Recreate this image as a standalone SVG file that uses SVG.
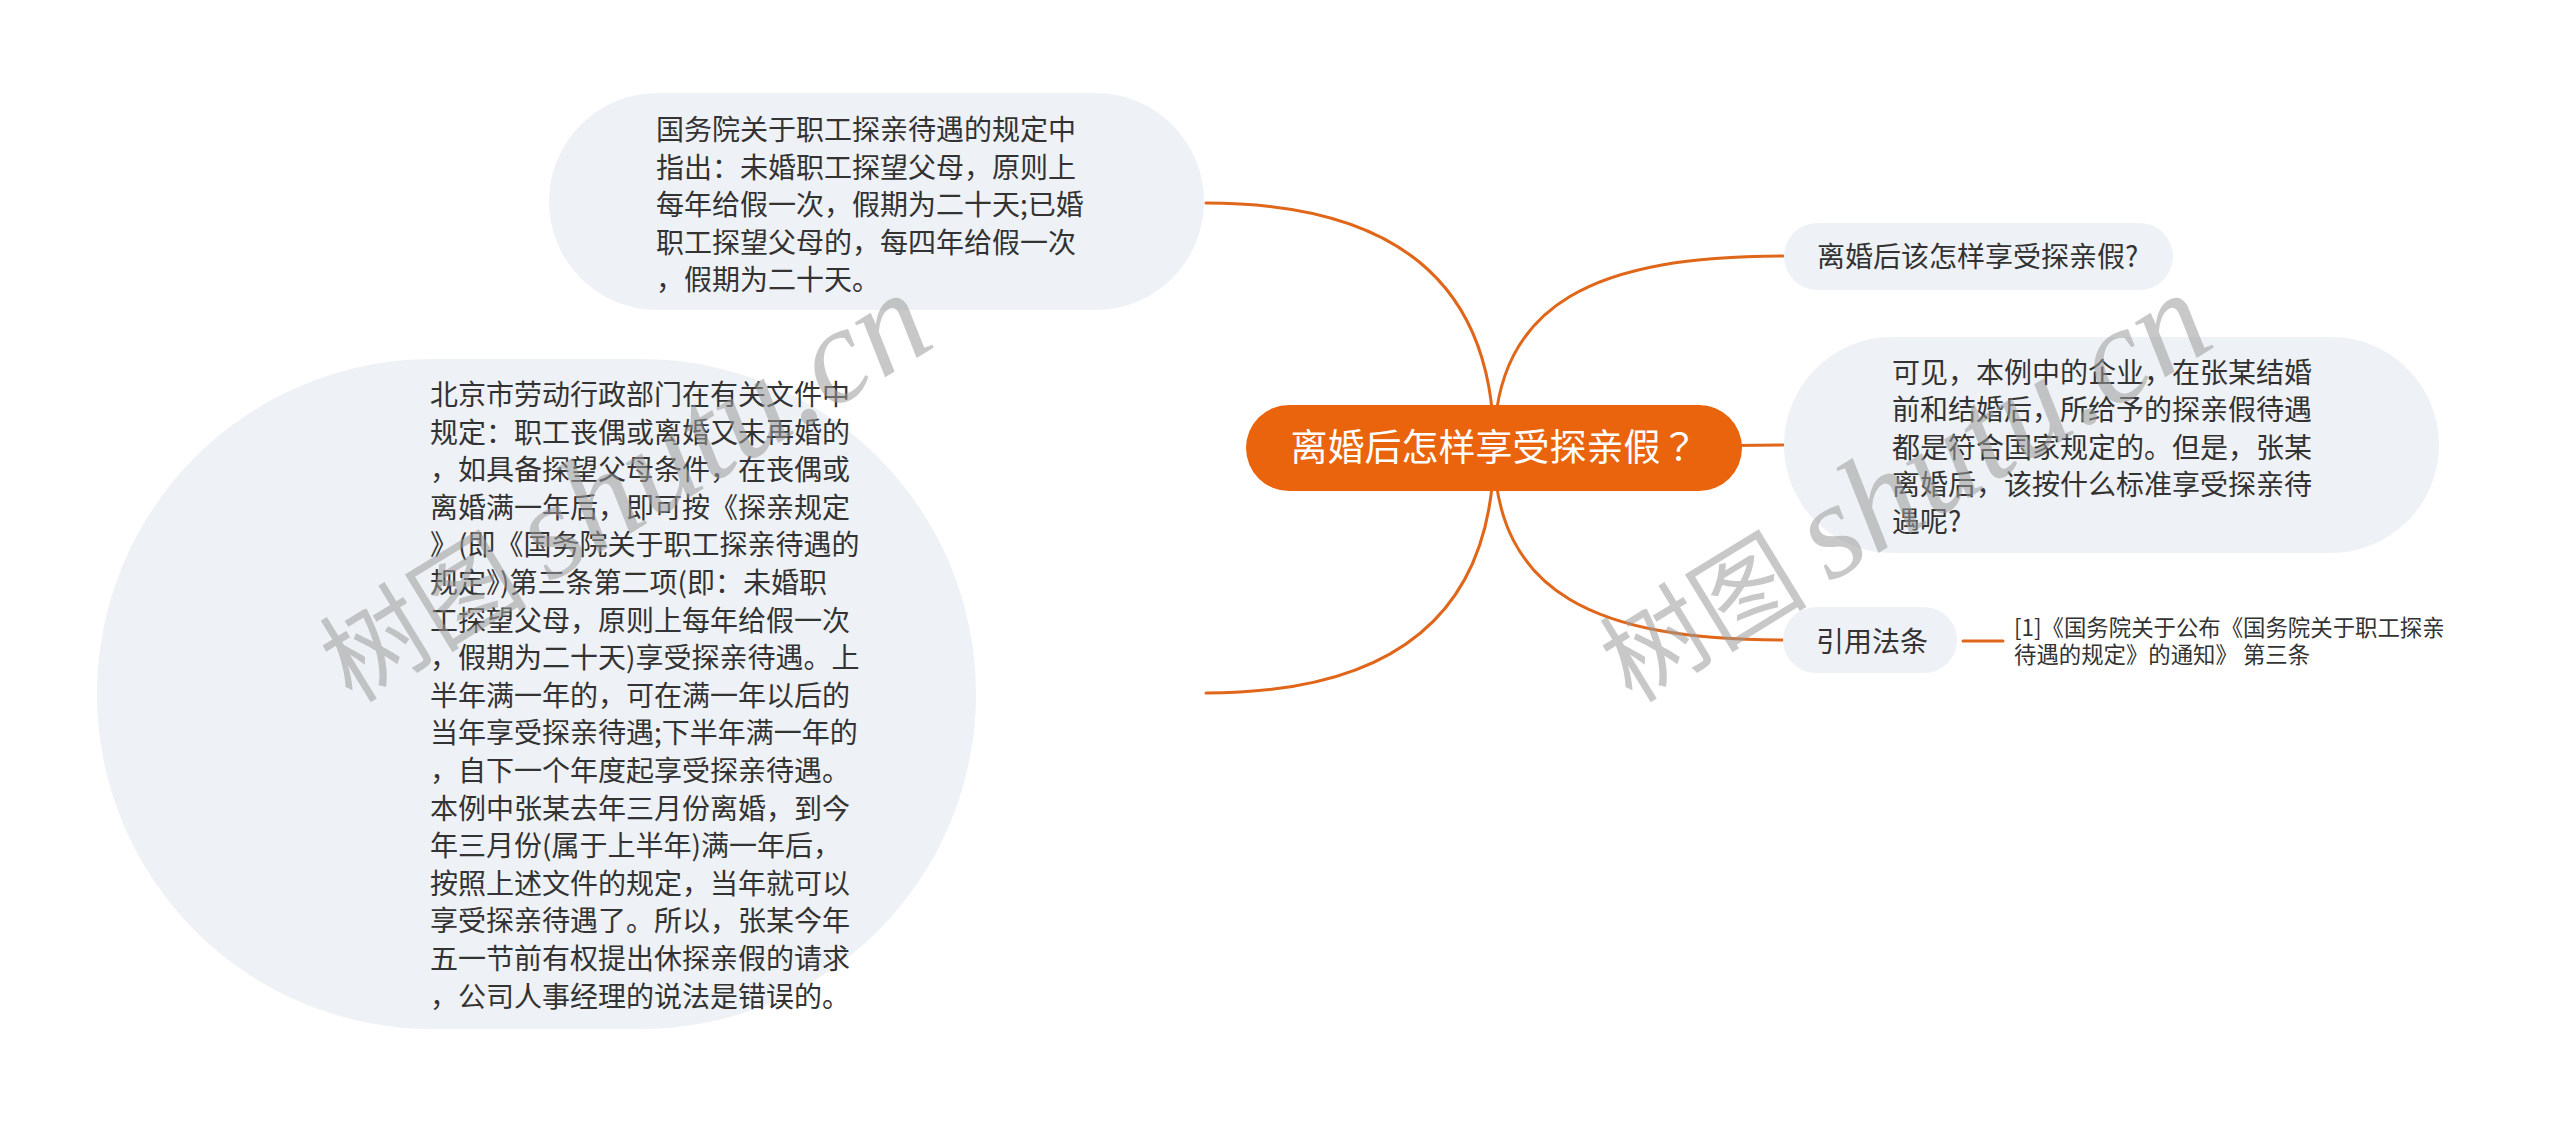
<svg xmlns="http://www.w3.org/2000/svg" width="2560" height="1123" viewBox="0 0 2560 1123">
<style>
.bg{fill:#ffffff}
.node{fill:#EEF1F5}
.root{fill:#E9640C}
.t{font-family:"Noto Sans CJK SC","Noto Sans",sans-serif;font-size:28px;fill:#333333}
.rt{font-family:"Noto Sans CJK SC","Noto Sans",sans-serif;font-size:37px;fill:#ffffff}
.ct{font-family:"Noto Sans CJK SC","Noto Sans",sans-serif;font-size:22.4px;fill:#333333}
.link{fill:none;stroke:#E0661A;stroke-width:3;stroke-linecap:round}
.wm{font-family:"Noto Sans CJK SC",sans-serif;font-size:104px;fill:#9a9a9a;fill-opacity:0.55}
.wl{font-family:"Liberation Serif",serif;font-style:italic;font-size:136px}
</style>
<rect class="bg" x="0" y="0" width="2560" height="1123"/>
<g id="connectors">
<path class="link" d="M1494 448 C1494 255,1360 203,1206 203"/>
<path class="link" d="M1494 448 C1494 641,1360 693,1206 693"/>
<path class="link" d="M1494 448 C1494 300,1600 256,1783 256"/>
<path class="link" d="M1494 448 L1783 445"/>
<path class="link" d="M1494 448 C1494 596,1600 640,1783 640"/>
<path class="link" d="M1963 641 L2003 641"/>
</g>
<g id="node-top-left">
<rect class="node" x="549" y="93" width="655" height="217" rx="108.5"/>
<text class="t"><tspan x="656" y="140">国务院关于职工探亲待遇的规定中</tspan><tspan x="656" y="177.5">指出：未婚职工探望父母，原则上</tspan><tspan x="656" y="215">每年给假一次，假期为二十天;已婚</tspan><tspan x="656" y="252.5">职工探望父母的，每四年给假一次</tspan><tspan x="656" y="290">，假期为二十天。</tspan></text>
</g>
<g id="node-left">
<rect class="node" x="97" y="359" width="879" height="670" rx="335"/>
<text class="t"><tspan x="430" y="405">北京市劳动行政部门在有关文件中</tspan><tspan x="430" y="442.6">规定：职工丧偶或离婚又未再婚的</tspan><tspan x="430" y="480.2">，如具备探望父母条件，在丧偶或</tspan><tspan x="430" y="517.8">离婚满一年后，即可按《探亲规定</tspan><tspan x="430" y="555.4">》(即《国务院关于职工探亲待遇的</tspan><tspan x="430" y="593">规定》)第三条第二项(即：未婚职</tspan><tspan x="430" y="630.6">工探望父母，原则上每年给假一次</tspan><tspan x="430" y="668.2">，假期为二十天)享受探亲待遇。上</tspan><tspan x="430" y="705.8">半年满一年的，可在满一年以后的</tspan><tspan x="430" y="743.4">当年享受探亲待遇;下半年满一年的</tspan><tspan x="430" y="781">，自下一个年度起享受探亲待遇。</tspan><tspan x="430" y="818.6">本例中张某去年三月份离婚，到今</tspan><tspan x="430" y="856.2">年三月份(属于上半年)满一年后，</tspan><tspan x="430" y="893.8">按照上述文件的规定，当年就可以</tspan><tspan x="430" y="931.4">享受探亲待遇了。所以，张某今年</tspan><tspan x="430" y="969">五一节前有权提出休探亲假的请求</tspan><tspan x="430" y="1006.6">，公司人事经理的说法是错误的。</tspan></text>
</g>
<g id="node-root">
<rect class="root" x="1246" y="405" width="496" height="86" rx="43"/>
<text class="rt" x="1494" y="461" text-anchor="middle">离婚后怎样享受探亲假<tspan font-family="Noto Sans CJK TC, sans-serif">？</tspan></text>
</g>
<g id="node-question">
<rect class="node" x="1784" y="223" width="389" height="67" rx="33.5"/>
<text class="t" x="1817" y="267">离婚后该怎样享受探亲假?</text>
</g>
<g id="node-answer">
<rect class="node" x="1784" y="337" width="655" height="216" rx="108"/>
<text class="t"><tspan x="1892" y="383">可见，本例中的企业，在张某结婚</tspan><tspan x="1892" y="420.3">前和结婚后，所给予的探亲假待遇</tspan><tspan x="1892" y="457.6">都是符合国家规定的。但是，张某</tspan><tspan x="1892" y="494.9">离婚后，该按什么标准享受探亲待</tspan><tspan x="1892" y="532.2">遇呢?</tspan></text>
</g>
<g id="node-cite">
<rect class="node" x="1783" y="607" width="174" height="66" rx="33"/>
<text class="t" x="1816" y="652">引用法条</text>
</g>
<g id="node-cite-text">
<text class="ct"><tspan x="2014" y="636">[1]《国务院关于公布《国务院关于职工探亲</tspan><tspan x="2014" y="663">待遇的规定》的通知》 第三条</tspan></text>
</g>
<g id="watermarks">
<text class="wm" x="352" y="704" transform="rotate(-31.5 352 704)">树图 <tspan class="wl">shutu.cn</tspan></text>
<text class="wm" x="1632" y="704" transform="rotate(-31.5 1632 704)">树图 <tspan class="wl">shutu.cn</tspan></text>
</g>
</svg>
